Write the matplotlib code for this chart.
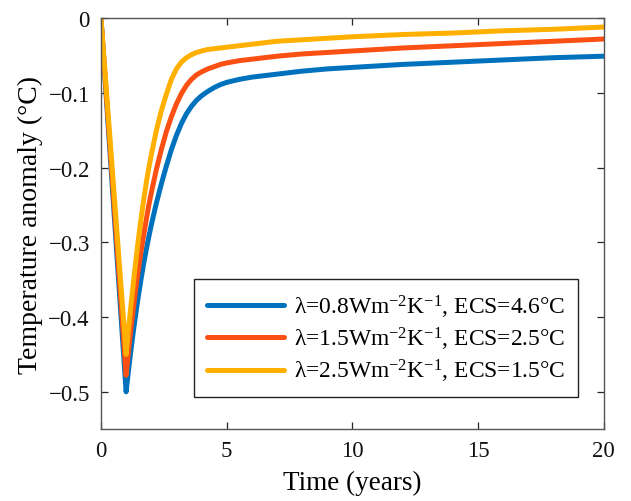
import matplotlib
matplotlib.use("Agg")
import matplotlib.pyplot as plt

# values
t = [0, 1.0, 1.1, 1.2, 1.3, 1.4, 1.5, 1.6, 1.7, 1.8, 1.9, 2.0, 2.2, 2.4, 2.6, 2.8,
     3.0, 3.2, 3.4, 3.6, 3.8, 4.0, 4.25, 4.5, 4.75, 5.0, 5.5, 6, 7, 8, 9, 10,
     12, 14, 16, 18, 20]

dT_08 = [0, -0.500, -0.470, -0.442, -0.416, -0.392, -0.369, -0.348, -0.328, -0.310,
         -0.293, -0.277, -0.248, -0.222, -0.198, -0.176, -0.157, -0.141, -0.128,
         -0.118, -0.110, -0.104, -0.098, -0.093, -0.089, -0.086, -0.082, -0.079,
         -0.075, -0.071, -0.068, -0.066, -0.062, -0.059, -0.056, -0.053, -0.051]
dT_15 = [0, -0.478, -0.444, -0.413, -0.385, -0.358, -0.334, -0.311, -0.290, -0.270,
         -0.251, -0.234, -0.203, -0.176, -0.152, -0.132, -0.115, -0.101, -0.090,
         -0.082, -0.076, -0.072, -0.068, -0.065, -0.062, -0.060, -0.057, -0.055,
         -0.051, -0.048, -0.046, -0.044, -0.040, -0.037, -0.034, -0.031, -0.028]
dT_25 = [0, -0.450, -0.415, -0.382, -0.351, -0.321, -0.293, -0.267, -0.243, -0.221,
         -0.201, -0.183, -0.151, -0.124, -0.102, -0.082, -0.068, -0.059, -0.053,
         -0.049, -0.046, -0.044, -0.042, -0.041, -0.040, -0.039, -0.037, -0.035,
         -0.031, -0.029, -0.027, -0.025, -0.022, -0.020, -0.017, -0.015, -0.012]

labels = ["λ=0.8Wm$^{-2}$K$^{-1}$, ECS=4.6°C",
          "λ=1.5Wm$^{-2}$K$^{-1}$, ECS=2.5°C",
          "λ=2.5Wm$^{-2}$K$^{-1}$, ECS=1.5°C"]
colors = ["#0072BD", "#FA5014", "#FFB000"]

x_ticks = [0, 5, 10, 15, 20]
y_ticks = [0, -0.1, -0.2, -0.3, -0.4, -0.5]
y_tick_labels = ["0", "\u22120.1", "\u22120.2", "\u22120.3", "\u22120.4", "\u22120.5"]

plt.rcParams["font.family"] = ["Liberation Serif", "DejaVu Serif"]
plt.rcParams["mathtext.fontset"] = "custom"
plt.rcParams["mathtext.rm"] = "Liberation Serif"
plt.rcParams["mathtext.it"] = "Liberation Serif:italic"

fig = plt.figure(figsize=(6.31, 5.02), dpi=100)
ax = fig.add_axes([0.160, 0.143, 0.797, 0.819])

for y, lab, c in zip([dT_08, dT_15, dT_25], labels, colors):
    ax.plot(t, y, color=c, lw=3.6, label=lab, solid_capstyle="round",
            solid_joinstyle="round")

ax.set_xlim(0, 20)
ax.set_ylim(-0.55, 0)
ax.set_xticks(x_ticks)
ax.set_yticks(y_ticks)
ax.set_yticklabels(y_tick_labels)
ax.tick_params(direction="in", length=5, width=0.9, top=True, right=True,
               labelsize=16.5, colors="#262626", labelcolor="#111111", pad=8)
for s in ax.spines.values():
    s.set_color("#555555")
    s.set_linewidth(1.0)

ax.set_xlabel("Time (years)", fontsize=19.5, labelpad=6)
ax.set_ylabel("Temperature anomaly (°C)", fontsize=20, labelpad=4)

leg = ax.legend(loc="lower right", bbox_to_anchor=(0.948, 0.078), borderaxespad=0,
                fontsize=16.9, handlelength=3.3, handletextpad=0.4,
                labelspacing=0.22, fancybox=False, framealpha=1, borderpad=0.55)
leg.get_frame().set_edgecolor("#222222")
leg.get_frame().set_linewidth(1.0)

fig.savefig("out.png", dpi=100)
